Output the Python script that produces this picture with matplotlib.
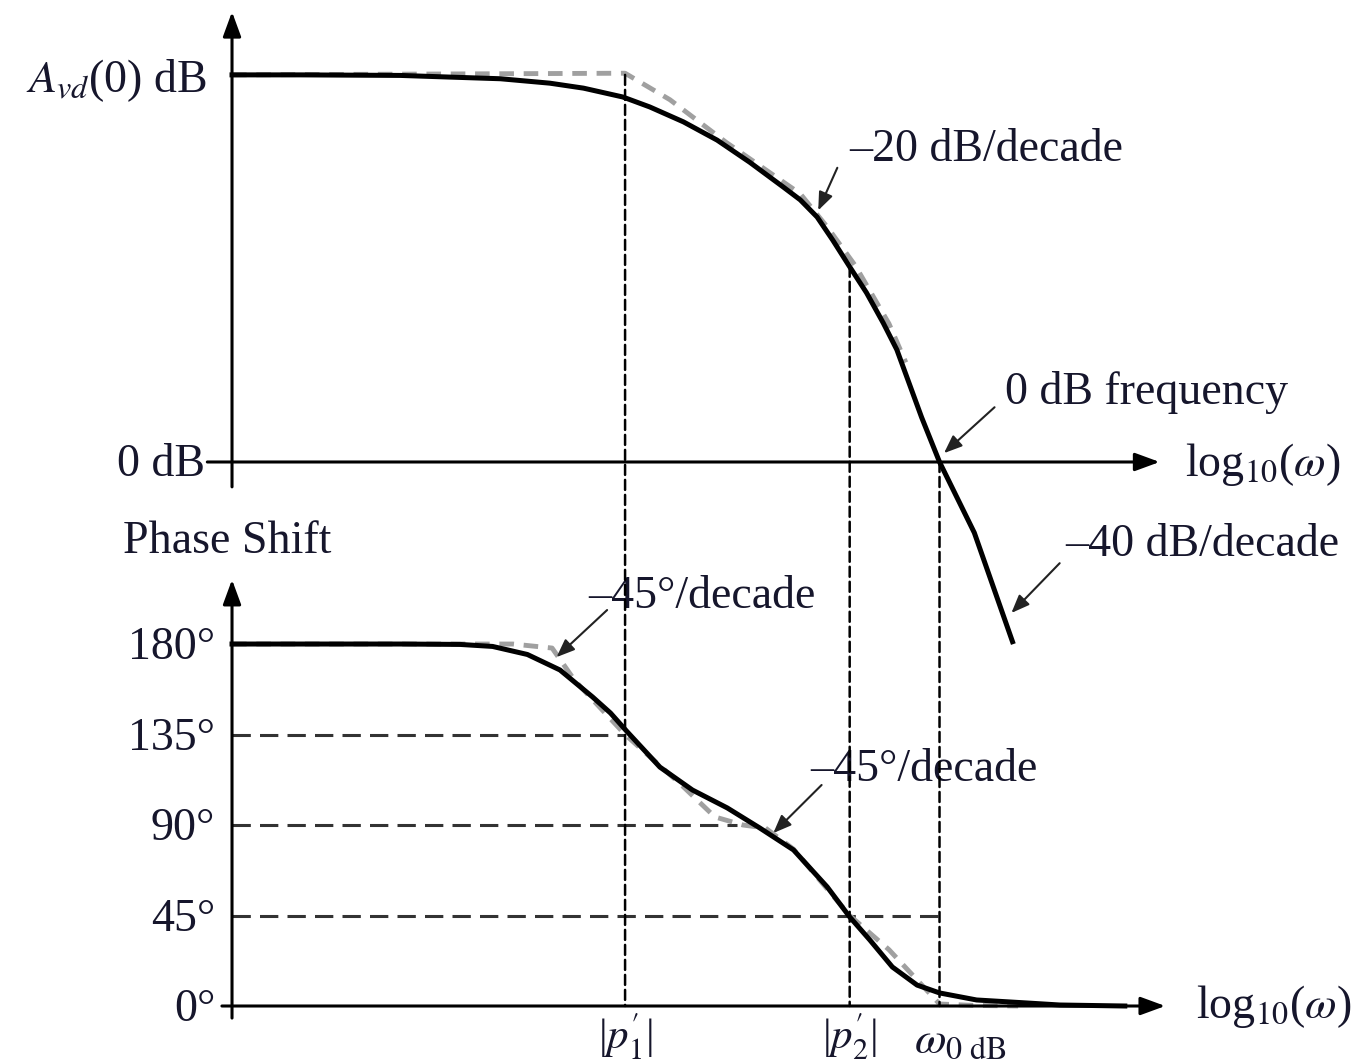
import numpy as np
import matplotlib.pyplot as plt
from matplotlib.patches import ConnectionPatch

plt.rcParams['font.family'] = ['Liberation Serif', 'DejaVu Serif']
plt.rcParams['mathtext.fontset'] = 'stix'

# ===== Data (x in decades of log10(w), magnitude in dB, phase in degrees) =====
p1 = 3.5
p2 = 5.5
w0 = 6.3
avd0 = 70

mag_x = [0, 0.61, 1.50, 1.94, 2.39, 2.83, 3.13, 3.48, 3.72, 4.02, 4.32, 4.61,
         4.91, 5.06, 5.21, 5.35, 5.50, 5.65, 5.80, 5.92, 6.14, 6.30, 6.61, 6.95]
mag_db = [70, 70, 69.9, 69.6, 69.3, 68.5, 67.6, 66.0, 64.2, 61.5, 58.2, 54.2,
          49.7, 47.4, 44.3, 40.1, 35.3, 30.6, 25.1, 20.3, 8.1, 0, -12.8, -32.5]

mag_asym_x = [0, 3.5, 3.9, 4.4, 5.06, 5.3, 5.55, 5.85, 6.0]
mag_asym_db = [70, 70.3, 65.5, 57.8, 48.5, 42.5, 35.5, 25.0, 18.0]

ph_x = [0, 1.50, 2.03, 2.32, 2.63, 2.92, 3.21, 3.37, 3.52, 3.81, 4.10, 4.41,
        4.70, 5.00, 5.30, 5.50, 5.68, 5.88, 6.10, 6.30, 6.63, 7.08, 7.37, 7.95]
ph_deg = [180, 180, 179.8, 178.8, 174.8, 167.1, 153.7, 145.7, 136.3, 118.8,
          107.4, 98.5, 88.5, 77.6, 59.2, 44.3, 32.8, 19.4, 10.4, 6.5, 3.0, 1.5,
          0.5, 0]

ph_asym_x = [0, 2.5, 2.85, 3.05, 3.5, 4.0, 4.3, 4.55, 4.75, 5.0, 5.5, 5.85,
             6.3, 6.6, 7.0]
ph_asym_deg = [180, 180, 178, 162, 135, 110, 94, 90, 88.5, 78, 45, 28, 1, 0.3, 0]

phase_ticks = [180, 135, 90, 45, 0]
phase_guides_end = [None, p1, 4.5, w0, None]

# ===== Layout: both axes cover the whole figure, separate y scales =====
fig = plt.figure(figsize=(13.62, 10.64), dpi=100)
ax_top = fig.add_axes([0, 0, 1, 1])
ax_bot = fig.add_axes([0, 0, 1, 1])
for ax in (ax_top, ax_bot):
    ax.set_xlim(-2.066, 10.062)
    ax.axis('off')
    ax.patch.set_alpha(0)
ax_top.set_ylim(-108.86, 83.54)
ax_bot.set_ylim(-28.84, 500.25)

txt = '#16162c'
fs = 33
axis_arrow = dict(arrowstyle='-|>,head_length=0.6,head_width=0.22', lw=2.2,
                  color='black', mutation_scale=25, shrinkA=0, shrinkB=0)
note_arrow = dict(arrowstyle='-|>,head_length=0.5,head_width=0.2', lw=1.5,
                  color='#222222', mutation_scale=22, shrinkA=0, shrinkB=0)
gray_style = dict(color='#a0a0a0', lw=3.5, ls=(0, (3, 2)), zorder=2)

# ----- magnitude plot -----
ax_top.annotate('', xy=(8.26, 0), xytext=(-0.22, 0), arrowprops=axis_arrow)
ax_top.annotate('', xy=(0, 81.4), xytext=(0, -4.5), arrowprops=axis_arrow)
ax_top.plot(mag_asym_x, mag_asym_db, **gray_style)
ax_top.plot(mag_x, mag_db, color='black', lw=3.6, zorder=3)

ax_top.text(-0.22, 69, r'$A_{vd}$(0) dB', fontsize=fs, color=txt,
            ha='right', va='center')
ax_top.text(-0.24, -0.5, '0 dB', fontsize=fs, color=txt, ha='right', va='center')
ax_top.text(8.49, -0.5, r'log$_{10}$($\omega$)', fontsize=fs, color=txt,
            ha='left', va='center')

ax_top.text(5.50, 56.4, '\u201320 dB/decade', fontsize=fs, color=txt,
            ha='left', va='center')
ax_top.annotate('', xy=(5.22, 45.5), xytext=(5.39, 53.2), arrowprops=note_arrow)
ax_top.text(6.88, 12.5, '0 dB frequency', fontsize=fs, color=txt,
            ha='left', va='center')
ax_top.annotate('', xy=(6.34, 1.6), xytext=(6.79, 9.9), arrowprops=note_arrow)
ax_top.text(7.42, -15.0, '\u201340 dB/decade', fontsize=fs, color=txt,
            ha='left', va='center')
ax_top.annotate('', xy=(6.94, -27.3), xytext=(7.37, -18.3), arrowprops=note_arrow)

# ----- phase plot -----
ax_bot.annotate('', xy=(8.31, 0), xytext=(-0.09, 0), arrowprops=axis_arrow)
ax_bot.annotate('', xy=(0, 212), xytext=(0, -6), arrowprops=axis_arrow)

for deg, end in zip(phase_ticks, phase_guides_end):
    ax_bot.text(-0.15, deg - 2, f'{deg}\u00b0', fontsize=fs, color=txt,
                ha='right', va='center')
    if end is not None:
        ax_bot.plot([0, end], [deg, deg], color='#333333', lw=2.2,
                    ls=(0, (6, 3)), zorder=1)

ax_bot.plot(ph_asym_x, ph_asym_deg, **gray_style)
ax_bot.plot(ph_x, ph_deg, color='black', lw=3.6, zorder=3)

ax_bot.text(-0.97, 230.7, 'Phase Shift', fontsize=fs, color=txt,
            ha='left', va='center')
ax_bot.text(3.17, 203.4, '\u201345\u00b0/decade', fontsize=fs, color=txt,
            ha='left', va='center')
ax_bot.annotate('', xy=(2.89, 173.5), xytext=(3.34, 196.9), arrowprops=note_arrow)
ax_bot.text(5.15, 117.4, '\u201345\u00b0/decade', fontsize=fs, color=txt,
            ha='left', va='center')
ax_bot.annotate('', xy=(4.82, 86.0), xytext=(5.25, 109.9), arrowprops=note_arrow)

ax_bot.text(p1, -15, r"|$p^{\prime}_{1}$|", fontsize=31, color=txt,
            ha='center', va='center')
ax_bot.text(p2, -15, r"|$p^{\prime}_{2}$|", fontsize=31, color=txt,
            ha='center', va='center')
ax_bot.text(w0 + 0.18, -18, r'$\omega_{0\ \mathrm{dB}}$', fontsize=fs, color=txt,
            ha='center', va='center')
ax_bot.text(8.58, 0, r'log$_{10}$($\omega$)', fontsize=fs, color=txt,
            ha='left', va='center')

# ----- dashed guides linking the two plots -----
for x, top_db in [(p1, avd0), (p2, 35.3), (w0, 0)]:
    cp = ConnectionPatch(xyA=(x, top_db), coordsA=ax_top.transData,
                         xyB=(x, 0), coordsB=ax_bot.transData,
                         color='black', lw=1.8, ls=(0, (4, 2)), zorder=1)
    fig.add_artist(cp)

plt.savefig('out.png', dpi=100)
